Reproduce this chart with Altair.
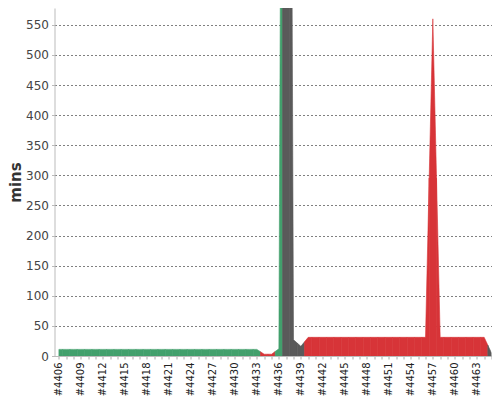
import altair as alt
import pandas as pd

builds = [4406, 4407, 4408, 4409, 4410, 4411, 4412, 4413, 4414, 4415,
          4416, 4417, 4418, 4419, 4420, 4421, 4422, 4423, 4424, 4425,
          4426, 4427, 4428, 4429, 4430, 4431, 4432, 4433, 4434, 4435,
          4436, 4437, 4438, 4439, 4440, 4441, 4442, 4443, 4444, 4445,
          4446, 4447, 4448, 4449, 4450, 4451, 4452, 4453, 4454, 4455,
          4456, 4457, 4458, 4459, 4460, 4461, 4462, 4463, 4464, 4465]

mins = [11, 11, 11, 11, 11, 11, 11, 11, 11, 11,
        11, 11, 11, 11, 11, 11, 11, 11, 11, 11,
        11, 11, 11, 11, 11, 11, 11, 11, 3, 3,
        12, 3000, 27, 16, 31, 31, 31, 31, 31, 31,
        31, 31, 31, 31, 31, 31, 31, 31, 31, 31,
        31, 560, 31, 31, 31, 31, 31, 31, 31, 5]

results = (["success"] * 28 + ["failure", "failure", "success",
            "aborted", "aborted", "aborted"] + ["failure"] * 25 + ["aborted"])

y_ticks = [0, 50, 100, 150, 200, 250, 300, 350, 400, 450, 500, 550]
result_names = ["success", "failure", "aborted"]
result_colors = ["#42a06c", "#d73438", "#5a5a5a"]

df = pd.DataFrame({"build": builds, "mins": mins, "result": results})

color_scale = alt.Scale(domain=result_names, range=result_colors)

chart = alt.Chart(df).transform_window(
    prev="lag(mins)", nxt="lead(mins)", sort=[alt.SortField("build")]
).transform_calculate(
    yl="isValid(datum.prev) ? (datum.prev + datum.mins) / 2 : null",
    yc="datum.mins",
    yr="isValid(datum.nxt) ? (datum.nxt + datum.mins) / 2 : null",
).transform_fold(
    ["yl", "yc", "yr"], as_=["part", "v"]
).transform_filter(
    "isValid(datum.v)"
).transform_calculate(
    px="datum.build + (datum.part == 'yl' ? -0.5 : (datum.part == 'yr' ? 0.5 : 0))"
).mark_area(clip=True, interpolate="linear", strokeWidth=0.6).encode(
    x=alt.X("px:Q",
            scale=alt.Scale(domain=[4405.4, 4465], nice=False, zero=False),
            axis=alt.Axis(values=builds,
                          labelExpr="(datum.value - 4406) % 3 == 0 ? '#' + datum.value : ''",
                          labelAngle=-90, labelOverlap=False, labelFontSize=10,
                          labelColor="#222", labelFont="DejaVu Sans",
                          labelPadding=3, tickSize=3, tickColor="#aaa",
                          domainColor="#bbb", grid=False),
            title=None),
    y=alt.Y("v:Q", stack=None,
            scale=alt.Scale(domain=[0, 578], nice=False),
            axis=alt.Axis(values=y_ticks, grid=True, gridDash=[2, 2],
                          gridColor="#808080", gridWidth=1,
                          labelFontSize=12, labelColor="#444",
                          labelFont="DejaVu Sans", labelPadding=3,
                          tickSize=3, tickColor="#bbb", domainColor="#bbb",
                          titleFont="DejaVu Sans", titleFontSize=15,
                          titleFontWeight="bold", titleColor="#333",
                          titlePadding=2),
            title="mins"),
    color=alt.Color("result:N", scale=color_scale, legend=None),
    stroke=alt.Stroke("result:N", scale=color_scale, legend=None),
    detail="build:N",
).properties(
    width=437, height=348,
    autosize=alt.AutoSizeParams(type="none"),
    padding={"left": 46.5, "top": 0, "right": 0, "bottom": 44},
).configure_view(stroke=None)

chart.save("out.html", embed_options={"renderer": "svg", "actions": False})
